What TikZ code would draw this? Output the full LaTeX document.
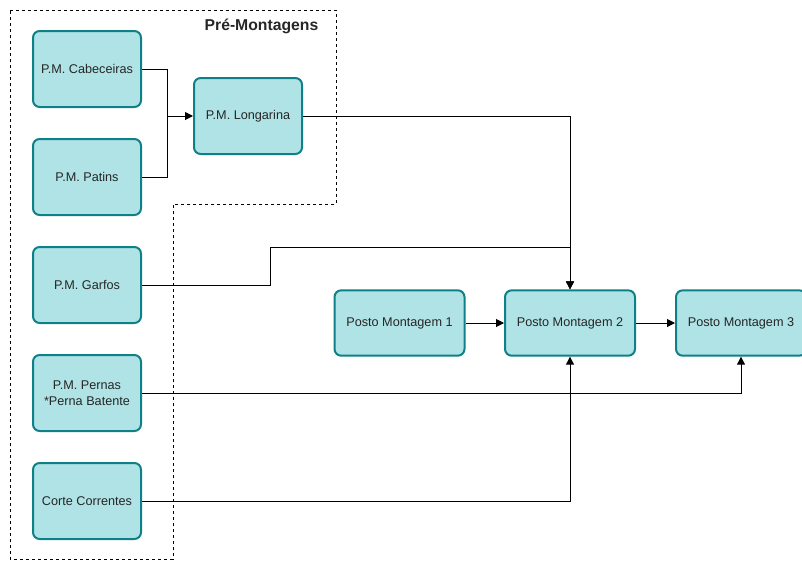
\documentclass[tikz,border=0pt]{standalone}
\usepackage{fontspec}
\setmainfont{Liberation Sans}
\usetikzlibrary{arrows.meta}
\definecolor{boxfill}{HTML}{B0E3E6}
\definecolor{boxline}{HTML}{0E8088}
\definecolor{txt}{HTML}{262626}
\begin{document}
\begin{tikzpicture}[x=0.75pt,y=-0.75pt,
  stage/.style={draw=boxline, fill=boxfill, line width=1.5pt, rounded corners=5pt,
    minimum width=81pt, minimum height=57pt, inner sep=1pt, align=center,
    font=\fontsize{9.5}{12}\selectfont, text=txt},
  posto/.style={stage, minimum width=97.5pt, minimum height=49pt},
  link/.style={draw=black, line width=0.75pt},
  flow/.style={link, -{Triangle[length=6pt,width=6pt]}}]
\useasboundingbox (0,0) rectangle (802,561);

% group outline
\draw[line width=0.75pt, dash pattern=on 2.25pt off 2.25pt]
  (10,10) -- (336,10) -- (336,204) -- (173,204) -- (173,559) -- (10,559) -- cycle;
\node[anchor=east, font=\bfseries\fontsize{11.8}{13}\selectfont, text=txt] (title) at (323,26) {Pré-Montagens};

% sub-assemblies
\node[stage] (cab) at (87,69) {P.M. Cabeceiras};
\node[stage] (pat) at (87,177) {P.M. Patins};
\node[stage] (lon) at (248,116) {P.M. Longarina};
\node[stage] (gar) at (87,285) {P.M. Garfos};
\node[stage] (per) at (87,393) {P.M. Pernas\\*Perna Batente};
\node[stage] (cor) at (87,501) {Corte Correntes};

% assembly stations
\node[posto] (pm1) at (399.5,323) {Posto Montagem 1};
\node[posto] (pm2) at (570,323) {Posto Montagem 2};
\node[posto] (pm3) at (741,323) {Posto Montagem 3};

% connectors
\coordinate (jn) at (167,116);
\coordinate (gbend) at (270,247);
\draw[link] (cab.east) -| (jn);
\draw[link] (pat.east) -| (jn);
\draw[flow] (jn) -- (lon.west);
\draw[flow] (lon.east) -| (pm2.north);
\draw[flow] (gar.east) -| (gbend) -| (pm2.north);
\draw[flow] (per.east) -| (pm3.south);
\draw[flow] (cor.east) -| (pm2.south);
\draw[flow] (pm1.east) -- (pm2.west);
\draw[flow] (pm2.east) -- (pm3.west);
\end{tikzpicture}
\end{document}
